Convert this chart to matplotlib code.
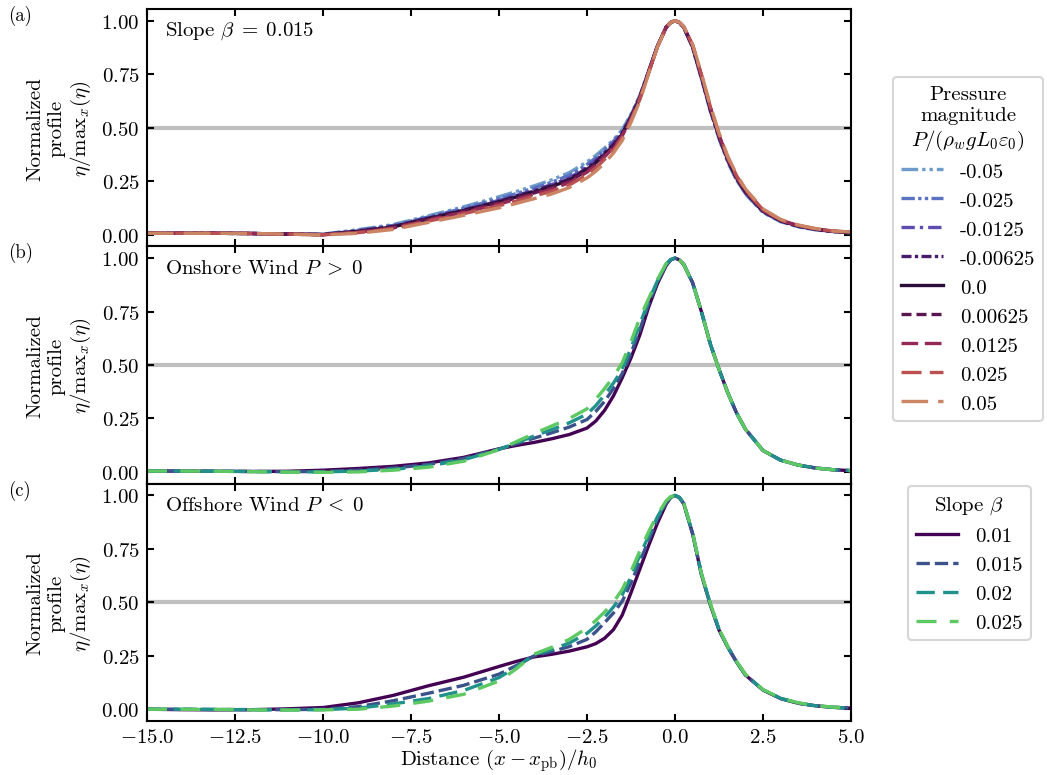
import matplotlib
matplotlib.use("Agg")
import matplotlib.pyplot as plt

plt.rcParams.update({
    "font.family": "serif",
    "font.serif": ["cmr10"],
    "mathtext.fontset": "cm",
    "axes.formatter.use_mathtext": True,
    "font.size": 10,
    "axes.unicode_minus": True,
})

# ─────────────────────────────────────────────
# Data
# ─────────────────────────────────────────────

x = [-15, -14, -13, -12, -11, -10, -9, -8, -7, -6, -5, -4.5, -4, -3.5, -3, -2.5, -2.25, -2, -1.75,
     -1.5, -1.25, -1, -0.75, -0.5, -0.25, -0.125, 0, 0.125, 0.25, 0.5, 0.75, 1, 1.25, 1.5, 1.75,
     2, 2.5, 3, 3.5, 4, 4.5, 5]

# (a) slope 0.015, varying pressure magnitude
pressure_labels = ["-0.05", "-0.025", "-0.0125", "-0.00625", "0.0",
                   "0.00625", "0.0125", "0.025", "0.05"]
a_m0500 = [.006, .006, .006, .005, .002, .002, .023, .047, .088, .130, .177, .202, .228, .256, .290, .340,
           .370, .405, .443, .490, .563, .650, .765, .882, .970, .992, 1.0, .991, .968, .872, .728, .578,
           .448, .338, .254, .190, .103, .060, .036, .022, .013, .008]
a_m0250 = [.006, .006, .006, .005, .002, .001, .020, .043, .083, .123, .168, .192, .218, .245, .278, .328,
           .359, .395, .436, .484, .558, .647, .763, .881, .970, .992, 1.0, .992, .969, .875, .732, .582,
           .452, .342, .257, .193, .105, .062, .037, .023, .014, .009]
a_m0125 = [.006, .006, .006, .005, .002, .001, .018, .040, .079, .117, .160, .183, .208, .234, .265, .316,
           .348, .385, .427, .477, .553, .643, .762, .881, .970, .992, 1.0, .992, .970, .878, .736, .586,
           .456, .346, .261, .197, .108, .064, .039, .024, .015, .010]
a_m0063 = [.006, .006, .006, .005, .002, .000, .016, .038, .077, .114, .156, .180, .204, .230, .260, .310,
           .342, .380, .421, .473, .550, .641, .761, .880, .970, .992, 1.0, .992, .970, .879, .738, .588,
           .458, .348, .263, .198, .109, .064, .040, .025, .015, .010]
a_0000 = [.006, .006, .006, .005, .002, .000, .015, .036, .075, .112, .153, .176, .200, .225, .255, .305,
          .335, .375, .415, .470, .548, .640, .760, .880, .970, .992, 1.0, .992, .970, .880, .740, .590,
          .460, .350, .265, .200, .110, .065, .040, .025, .015, .010]
a_p0063 = [.006, .006, .006, .005, .002, .000, .013, .034, .072, .109, .149, .171, .195, .220, .250, .299,
           .330, .370, .411, .466, .545, .638, .759, .880, .970, .992, 1.0, .992, .971, .882, .742, .592,
           .462, .352, .268, .202, .111, .066, .041, .025, .015, .010]
a_p0125 = [.006, .006, .006, .005, .002, -.001, .011, .031, .068, .104, .143, .165, .189, .213, .243, .292,
           .323, .364, .406, .462, .542, .636, .758, .879, .970, .992, 1.0, .992, .971, .884, .745, .595,
           .465, .355, .271, .205, .113, .067, .042, .026, .016, .011]
a_p0250 = [.006, .006, .006, .005, .002, -.001, .009, .028, .063, .098, .135, .157, .180, .203, .232, .280,
           .311, .352, .396, .452, .535, .632, .756, .878, .970, .992, 1.0, .993, .972, .887, .749, .600,
           .470, .360, .275, .209, .116, .069, .043, .027, .016, .011]
a_p0500 = [.006, .006, .006, .005, .002, -.002, .006, .024, .057, .090, .125, .146, .168, .190, .220, .265,
           .296, .335, .381, .440, .525, .625, .752, .876, .969, .992, 1.0, .993, .973, .890, .754, .606,
           .476, .366, .281, .214, .120, .071, .045, .028, .017, .012]
panel_a = [a_m0500, a_m0250, a_m0125, a_m0063, a_0000, a_p0063, a_p0125, a_p0250, a_p0500]

# (b) onshore wind, varying slope
slope_labels = ["0.01", "0.015", "0.02", "0.025"]
b_s010 = [.004, .004, .003, .002, .003, .008, .016, .026, .042, .068, .108, .124, .138, .155, .175, .205,
          .238, .288, .355, .440, .533, .640, .770, .880, .965, .991, 1.0, .992, .970, .885, .750, .600,
          .480, .370, .275, .200, .100, .055, .032, .018, .010, .006]
b_s015 = [.004, .004, .003, .002, .001, .002, .008, .018, .035, .063, .107, .132, .158, .183, .210, .245,
          .283, .330, .390, .460, .555, .665, .785, .888, .968, .992, 1.0, .992, .970, .885, .750, .600,
          .480, .370, .275, .200, .100, .055, .032, .018, .010, .006]
b_s020 = [.004, .004, .003, .002, .000, .000, .004, .012, .028, .057, .105, .136, .168, .198, .230, .270,
          .310, .360, .415, .480, .580, .690, .800, .893, .972, .993, 1.0, .992, .970, .885, .750, .600,
          .480, .370, .275, .200, .100, .055, .032, .018, .010, .006]
b_s025 = [.004, .004, .003, .001, -.001, -.002, .000, .008, .022, .050, .104, .142, .180, .215, .250, .295,
          .340, .390, .445, .510, .610, .720, .810, .900, .975, .994, 1.0, .992, .970, .885, .750, .600,
          .480, .370, .275, .200, .100, .055, .032, .018, .010, .006]
panel_b = [b_s010, b_s015, b_s020, b_s025]

# (c) offshore wind, varying slope
c_s010 = [.000, -.002, -.003, -.002, .002, .008, .030, .065, .110, .150, .200, .224, .245, .257, .272, .292,
          .307, .332, .372, .440, .545, .655, .765, .870, .960, .990, 1.0, .990, .960, .820, .630, .490,
          .370, .290, .220, .160, .090, .050, .028, .016, .009, .005]
c_s015 = [.000, .000, -.001, -.002, -.002, .000, .012, .040, .075, .112, .164, .205, .250, .270, .293, .327,
          .362, .405, .450, .505, .590, .690, .790, .890, .965, .991, 1.0, .990, .962, .822, .632, .492,
          .372, .291, .221, .161, .090, .050, .028, .016, .009, .005]
c_s020 = [.000, .000, -.001, -.002, -.003, -.002, .005, .025, .050, .088, .148, .198, .255, .280, .310, .355,
          .390, .430, .478, .535, .620, .720, .810, .900, .970, .992, 1.0, .991, .963, .824, .634, .494,
          .374, .292, .222, .162, .091, .051, .029, .016, .009, .005]
c_s025 = [.000, .000, -.001, -.003, -.004, -.003, .000, .015, .038, .070, .132, .190, .258, .290, .327, .380,
          .415, .455, .500, .560, .645, .740, .830, .910, .975, .994, 1.0, .991, .964, .826, .636, .496,
          .376, .293, .223, .163, .092, .052, .030, .017, .010, .006]
panel_c = [c_s010, c_s015, c_s020, c_s025]

# ─────────────────────────────────────────────
# Styles
# ─────────────────────────────────────────────

P_COLORS = ["#6f9bc8", "#5a72c2", "#5e4cb0", "#471a6c", "#2a0e38",
            "#5b1652", "#932956", "#bb5052", "#cb8565"]
P_STYLES = [(0, (5, 1.2, 1, 1.2, 1, 1.2)), (0, (4, 1, 1, 1, 1, 1)), (0, (4, 1.5, 1, 1.5)),
            (0, (3, 1, 1, 1)), "-", (0, (3, 1.5)), (0, (5, 2)), (0, (6, 2.5)), (0, (8, 3))]
S_COLORS = ["#440154", "#3b528b", "#21918c", "#5ec962"]
S_STYLES = ["-", (0, (4, 1.5)), (0, (5.5, 2.5)), (0, (6, 4))]

LW = 1.6

fig, axes = plt.subplots(3, 1, figsize=(1047 / 150, 776 / 150), dpi=150, sharex=True)
fig.subplots_adjust(left=147 / 1047, right=851 / 1047, top=1 - 10 / 776, bottom=1 - 722 / 776, hspace=0)

ax_a, ax_b, ax_c = axes

for y, lbl, col, ls in zip(panel_a, pressure_labels, P_COLORS, P_STYLES):
    ax_a.plot(x, y, color=col, linestyle=ls, linewidth=LW, label=lbl)

for ax, data in ((ax_b, panel_b), (ax_c, panel_c)):
    for y, lbl, col, ls in zip(data, slope_labels, S_COLORS, S_STYLES):
        ax.plot(x, y, color=col, linestyle=ls, linewidth=LW, label=lbl)

panel_texts = [r"Slope $\beta \;=\; 0.015$", r"Onshore Wind $P \;>\; 0$", r"Offshore Wind $P \;<\; 0$"]
for ax, txt, tag in zip(axes, panel_texts, ["(a)", "(b)", "(c)"]):
    ax.axhline(0.5, color="#bfbfbf", linewidth=2.0, zorder=0)
    ax.set_xlim(-15, 5)
    ax.set_ylim(-0.055, 1.055)
    ax.set_xticks([-15, -12.5, -10, -7.5, -5, -2.5, 0, 2.5, 5])
    ax.set_yticks([0, 0.25, 0.5, 0.75, 1.0])
    ax.tick_params(direction="in", top=True, right=True, length=3.5, width=1.0)
    for sp in ax.spines.values():
        sp.set_linewidth(1.0)
    ax.set_ylabel("Normalized\nprofile\n" + r"$\eta/\mathrm{max}_x(\eta)$")
    ax.text(0.025, 0.91, txt, transform=ax.transAxes, va="center", ha="left")
    bb = ax.get_position()
    fig.text(8 / 1047, bb.y1 - 6 / 776, tag, fontsize=9, va="center", ha="left")

ax_c.set_xlabel(r"Distance $(x - x_{\rm pb})/h_0$", labelpad=0)

leg1 = fig.legend(*ax_a.get_legend_handles_labels(), loc="upper left",
                  bbox_to_anchor=(893 / 1047, 1 - 78 / 776), borderaxespad=0,
                  title="Pressure\nmagnitude\n" + r"$P/(\rho_w g L_0 \varepsilon_0)$")
leg1.get_title().set_multialignment("center")
leg2 = fig.legend(*ax_b.get_legend_handles_labels(), loc="upper left",
                  bbox_to_anchor=(908 / 1047, 1 - 487 / 776), borderaxespad=0,
                  title=r"Slope $\beta$")

fig.savefig("out.png", dpi=150)
